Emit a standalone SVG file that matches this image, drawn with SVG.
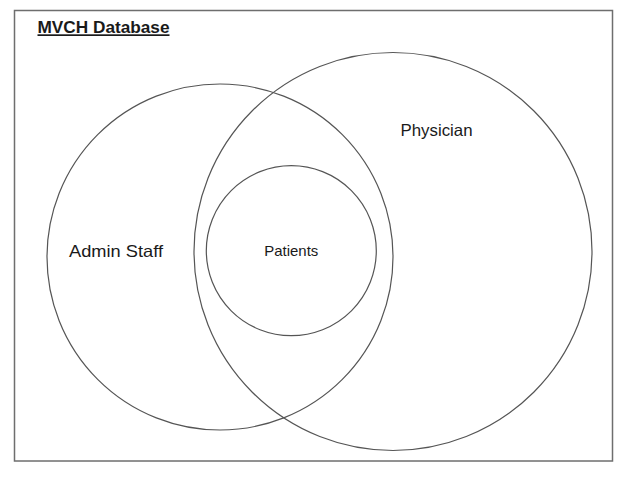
<svg xmlns="http://www.w3.org/2000/svg" width="624" height="491" viewBox="0 0 624 491">
<style>
.circ{fill:none;stroke:#555;stroke-width:1.2}
.lbl{font-family:"Liberation Sans",Arial,sans-serif;fill:#1a1a1a}
</style>
<rect width="624" height="491" fill="#fff"/>
<g id="database">
<rect x="14.5" y="10.5" width="598" height="450.5" fill="none" stroke="#6e6e6e" stroke-width="1.5"/>
<text class="lbl" x="37.5" y="33.3" font-size="17" font-weight="bold" text-decoration="underline" textLength="132" lengthAdjust="spacingAndGlyphs">MVCH Database</text>
</g>
<g id="admin-staff">
<circle class="circ" cx="220" cy="257" r="173"/>
<text class="lbl" x="69" y="256.5" font-size="16.5" textLength="94" lengthAdjust="spacingAndGlyphs">Admin Staff</text>
</g>
<g id="physician">
<circle class="circ" cx="393" cy="251.5" r="199"/>
<text class="lbl" x="400.5" y="136" font-size="16.5" textLength="72" lengthAdjust="spacingAndGlyphs">Physician</text>
</g>
<g id="patients">
<circle class="circ" cx="291.3" cy="250.7" r="85"/>
<text class="lbl" x="264.3" y="256" font-size="14.5" textLength="54" lengthAdjust="spacingAndGlyphs">Patients</text>
</g>
<g id="connectors"></g>
</svg>
